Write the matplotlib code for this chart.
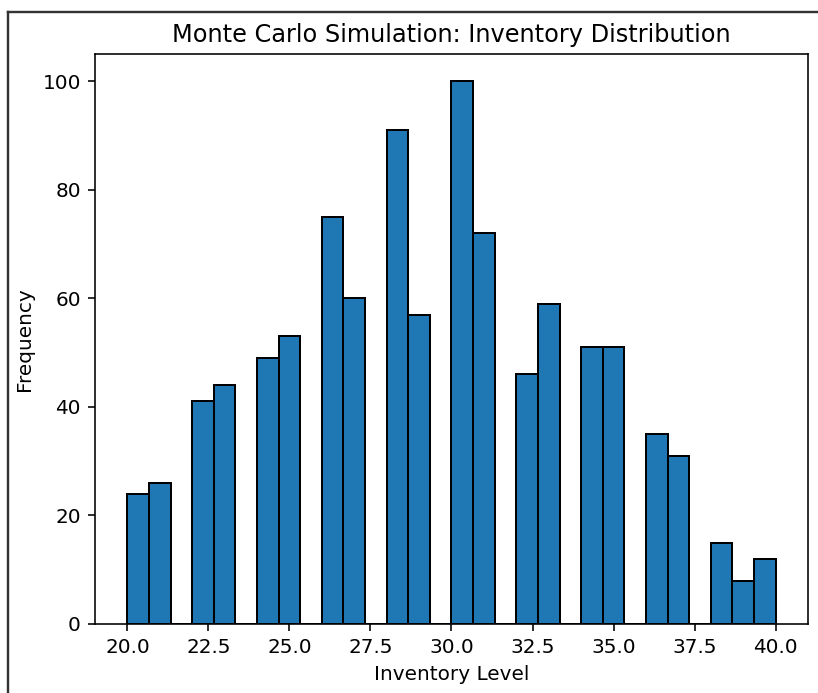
import matplotlib
matplotlib.use("Agg")
import matplotlib.pyplot as plt
from matplotlib.lines import Line2D

# inventory levels (integers) and how many simulation runs ended at each
levels = [20, 21, 22, 23, 24, 25, 26, 27, 28, 29, 30,
          31, 32, 33, 34, 35, 36, 37, 38, 39, 40]
counts = [24, 26, 41, 44, 49, 53, 75, 60, 91, 57, 100,
          72, 46, 59, 51, 51, 35, 31, 15, 8, 12]

fig = plt.figure(figsize=(818 / 144, 693 / 144), dpi=144)
ax = fig.add_axes([0.1161, 0.0996, 0.8717, 0.8225])

ax.hist(levels, bins=30, weights=counts, edgecolor="black")
ax.set_title("Monte Carlo Simulation: Inventory Distribution")
ax.set_xlabel("Inventory Level")
ax.set_ylabel("Frequency")

# screenshot frame (top and left edges)
fig.add_artist(Line2D([8 / 818, 1.0], [1 - 12 / 693, 1 - 12 / 693],
                      transform=fig.transFigure, color="#333333", lw=1.2))
fig.add_artist(Line2D([8 / 818, 8 / 818], [0.0, 1 - 12 / 693],
                      transform=fig.transFigure, color="#333333", lw=1.2))

fig.savefig("out.png", dpi=144)
